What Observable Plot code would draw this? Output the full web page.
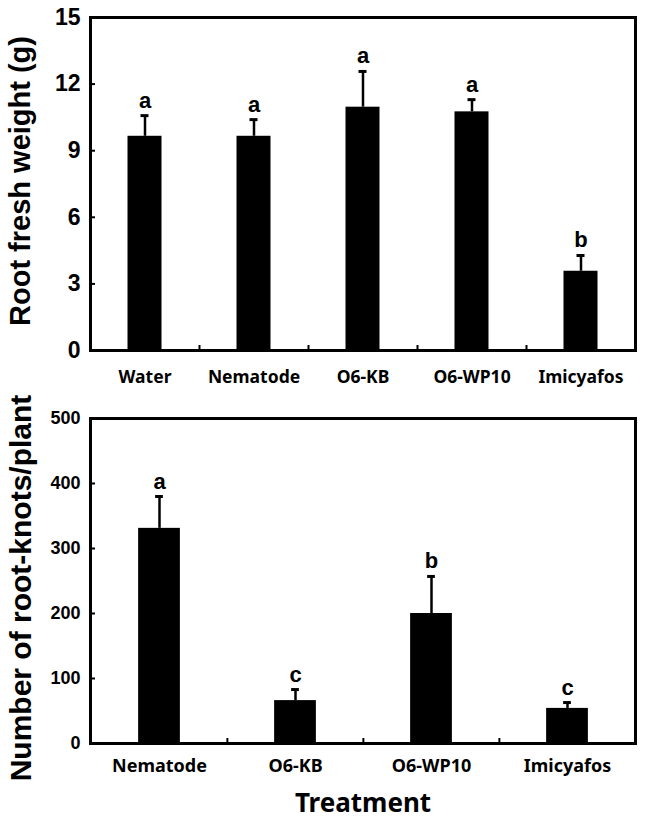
<!DOCTYPE html>
<html><head><meta charset="utf-8">
<script src="https://cdn.jsdelivr.net/npm/d3@7"></script>
<script src="https://cdn.jsdelivr.net/npm/@observablehq/plot@0.6"></script>
<style>body{margin:0;background:#fff;} #c svg{display:block}</style>
</head><body><div id="c"></div>
<script>
// Panel 1: root fresh weight
const topCats = ["Water", "Nematode", "O6-KB", "O6-WP10", "Imicyafos"];
const topMeans = [9.65, 9.65, 10.96, 10.75, 3.57];
const topErr = [0.93, 0.75, 1.61, 0.55, 0.71];
const topLetters = ["a", "a", "a", "a", "b"];
const topTicks = [0, 3, 6, 9, 12, 15];
const topTitle = "Root fresh weight (g)";

// Panel 2: number of root-knots per plant
const botCats = ["Nematode", "O6-KB", "O6-WP10", "Imicyafos"];
const botMeans = [331, 66, 200, 54];
const botErr = [49, 17, 57, 9];
const botLetters = ["a", "c", "b", "c"];
const botTicks = [0, 100, 200, 300, 400, 500];
const botTitle = "Number of root-knots/plant";
const xTitle = "Treatment";

const W = 646, ML = 90, MR = 11;
const ARIAL = "'Liberation Sans', Arial, sans-serif";
const KFONT = "'Noto Sans', 'Open Sans', sans-serif";

function panel(o) {
  const data = o.cats.map((c, i) => ({cat: c, mean: o.means[i], top: o.means[i] + o.errs[i], letter: o.letters[i]}));
  const bw = (W - ML - MR) / o.cats.length;
  const marks = [
    Plot.barY(data, {x: "cat", y: "mean", fill: "black", insetLeft: (bw - o.barW) / 2, insetRight: (bw - o.barW) / 2}),
    Plot.ruleX(data, {x: "cat", y1: "mean", y2: "top", stroke: "black", strokeWidth: 2.5}),
    Plot.tickY(data, {x: "cat", y: "top", stroke: "black", strokeWidth: 3, insetLeft: (bw - 8) / 2, insetRight: (bw - 8) / 2}),
    Plot.text(data, {x: "cat", y: "top", text: "letter", dy: -8, lineAnchor: "bottom", fontSize: 22, fontWeight: "bold", fontFamily: ARIAL, fill: "black"}),
    Plot.axisY({ticks: o.ticks, tickSize: -5, tickPadding: 15, strokeWidth: 2, fontSize: o.tickFont, fontWeight: "bold", fontFamily: ARIAL, label: null}),
    Plot.axisX({ticks: o.cats.slice(1), tickSize: -5, tickFormat: () => "", dx: -bw / 2, strokeWidth: 2, label: null}),
    Plot.axisX({tickSize: 0, tickPadding: o.xPad, fontSize: o.xFont, fontWeight: "bold", fontFamily: KFONT, label: null}),
    Plot.frame({stroke: "black", strokeWidth: 3}),
    Plot.text([o.title], {frameAnchor: "left", textAnchor: "middle", rotate: -90, dx: o.titleDx, dy: o.titleDy, lineAnchor: "middle", fontSize: o.titleFont, fontWeight: "bold", fontFamily: ARIAL, fill: "black"})
  ];
  if (o.xTitle) marks.push(Plot.text([o.xTitle], {frameAnchor: "bottom", textAnchor: "middle", dy: o.xTitleDy, lineAnchor: "bottom", fontSize: 26, fontWeight: "bold", fontFamily: KFONT, fill: "black"}));
  return Plot.plot({
    width: W, height: o.height,
    marginLeft: ML, marginRight: MR, marginTop: o.mt, marginBottom: o.mb,
    style: {background: "white", color: "black", overflow: "visible"},
    x: {domain: o.cats, padding: 0},
    y: {domain: o.domain},
    marks
  });
}

const c = document.getElementById("c");
c.append(panel({cats: topCats, means: topMeans, errs: topErr, letters: topLetters, ticks: topTicks, domain: [0, 15],
  title: topTitle, height: 395, mt: 17, mb: 45, barW: 34, tickFont: 23, xFont: 17.5, xPad: 20, titleFont: 29, titleDx: -70, titleDy: -3}));
c.append(panel({cats: botCats, means: botMeans, errs: botErr, letters: botLetters, ticks: botTicks, domain: [0, 500],
  title: botTitle, height: 425, mt: 23, mb: 77, barW: 42, tickFont: 18, xFont: 18, xPad: 16, titleFont: 30, titleDx: -69, titleDy: 7,
  xTitle: xTitle, xTitleDy: 68}));
</script>
</body></html>
